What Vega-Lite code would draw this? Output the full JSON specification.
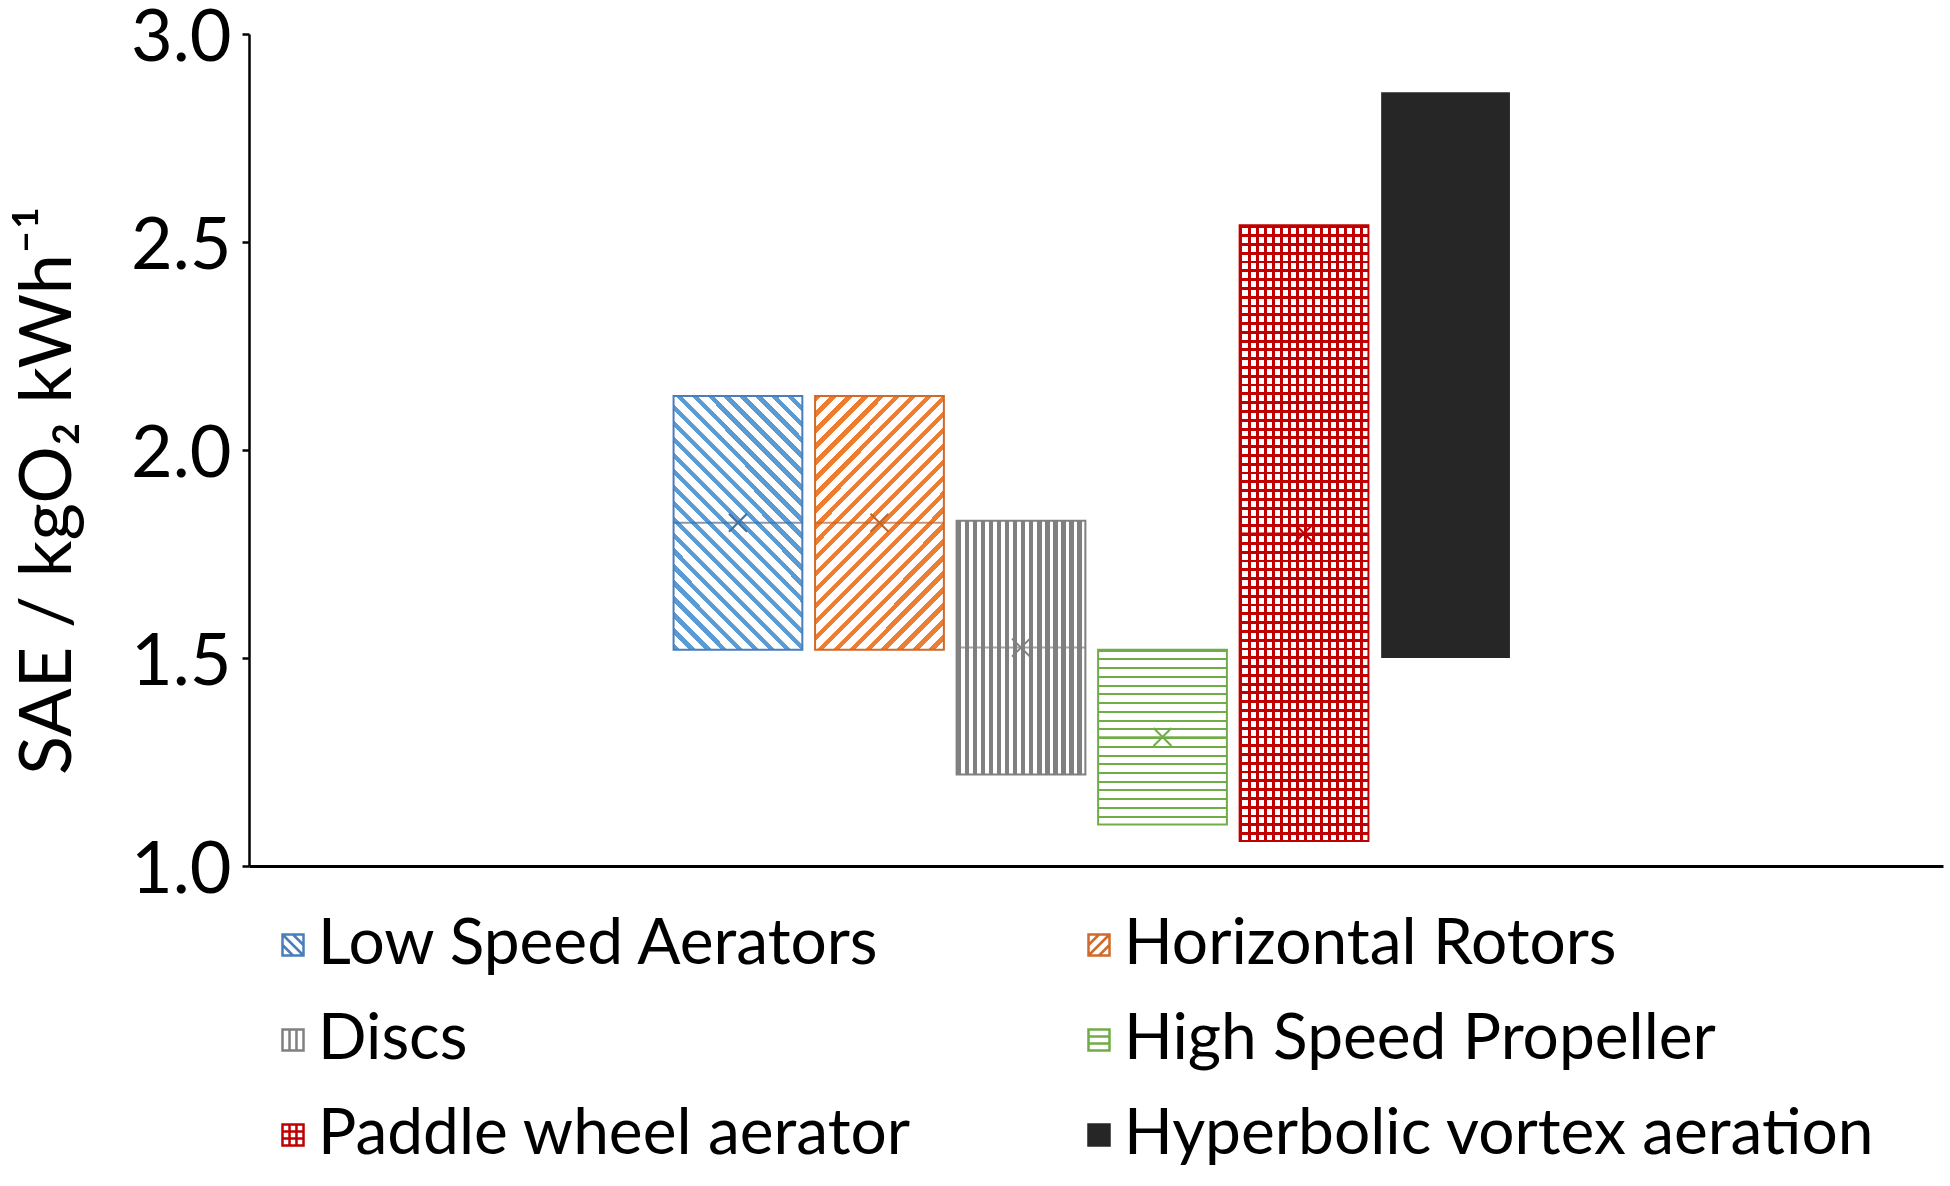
{
"$schema":"https://vega.github.io/schema/vega-lite/v6.json",
"width":1694,"height":832,
"autosize":{"type":"none"},
"padding":{"left":249,"top":34,"right":7,"bottom":320},
"background":"white",
"data":{"values":[
{"series":"Low Speed Aerators","lower":1.52,"upper":2.13,"median":1.825,"mean":1.825},
{"series":"Horizontal Rotors","lower":1.52,"upper":2.13,"median":1.825,"mean":1.825},
{"series":"Discs","lower":1.22,"upper":1.83,"median":1.525,"mean":1.525},
{"series":"High Speed Propeller","lower":1.10,"upper":1.52,"median":1.31,"mean":1.31},
{"series":"Paddle wheel aerator","lower":1.06,"upper":2.54,"median":1.80,"mean":1.80},
{"series":"Hyperbolic vortex aeration","lower":1.50,"upper":2.86,"median":null,"mean":null}
]},
"encoding":{"x":{"field":"series","type":"nominal","scale":{"type":"band","domain":["pad1","pad2","pad3","Low Speed Aerators","Horizontal Rotors","Discs","High Speed Propeller","Paddle wheel aerator","Hyperbolic vortex aeration","pad4","pad5","pad6"],"paddingInner":0.09,"paddingOuter":0.03,"align":0},"axis":{"title":null,"ticks":false,"labels":false,"domainWidth":3,"domainColor":"black"}}},
"layer":[
{"mark":{"type":"point","filled":true,"strokeWidth":2.5,"opacity":1},
"encoding":{"y":{"field":"mean","type":"quantitative","scale":{"domain":[1,3],"nice":false,"zero":false},"axis":{"title":"SAE / kgO₂ kWh⁻¹","values":[1,1.5,2,2.5,3],"format":".1f"}},
"stroke":{"field":"series","type":"nominal","scale":{"domain":["Low Speed Aerators","Discs","Paddle wheel aerator","Horizontal Rotors","High Speed Propeller","Hyperbolic vortex aeration"],"range":["#4a7ebb","#808080","#c00000","#d0692a","#70ad47","#262626"]},
"legend":{"title":null,"orient":"none","legendX":12,"legendY":879,"columns":2,"columnPadding":155,"rowPadding":31,"padding":0,"symbolSize":441,"symbolStrokeWidth":2.5,"labelFont":"Lato","labelFontSize":64,"labelColor":"black","labelOffset":-7,"labelLimit":1000}},
"fill":{"field":"series","type":"nominal","scale":{"domain":["Low Speed Aerators","Discs","Paddle wheel aerator","Horizontal Rotors","High Speed Propeller","Hyperbolic vortex aeration"],"range":["#ffffff","#ffffff","#ffffff","#ffffff","#ffffff","#262626"]},
"legend":{"title":null,"orient":"none","legendX":12,"legendY":879,"columns":2,"columnPadding":155,"rowPadding":31,"padding":0,"symbolSize":441,"symbolStrokeWidth":2.5,"labelFont":"Lato","labelFontSize":64,"labelColor":"black","labelOffset":-7,"labelLimit":1000}},
"shape":{"field":"series","type":"nominal","scale":{"domain":["Low Speed Aerators","Discs","Paddle wheel aerator","Horizontal Rotors","High Speed Propeller","Hyperbolic vortex aeration"],"range":["M-1,-1H1V1H-1Z M-1,-1L1,1 M-1,0L0,1 M0,-1L1,0","M-1,-1H1V1H-1Z M-0.33,-1V1 M0.33,-1V1","M-1,-1H1V1H-1Z M-0.33,-1V1 M0.33,-1V1 M-1,-0.33H1 M-1,0.33H1","M-1,-1H1V1H-1Z M-1,1L1,-1 M-1,0L0,-1 M0,1L1,0","M-1,-1H1V1H-1Z M-1,-0.33H1 M-1,0.33H1","square"]},
"legend":{"title":null,"orient":"none","legendX":12,"legendY":879,"columns":2,"columnPadding":155,"rowPadding":31,"padding":0,"symbolSize":441,"symbolStrokeWidth":2.5,"labelFont":"Lato","labelFontSize":64,"labelColor":"black","labelOffset":-7,"labelLimit":1000}}}},
{"transform":[{"filter":"datum.series === 'Low Speed Aerators'"}],
"mark":{"type":"bar","stroke":"#4a7ebb","strokeWidth":2,"fill":{"gradient":"linear","x1":0,"y1":1,"x2":0.6103,"y2":-0.1986,"stops":[
{"offset":0,"color":"#5b9bd5"},{"offset":0.0167,"color":"#5b9bd5"},{"offset":0.0167,"color":"#ffffff"},{"offset":0.0417,"color":"#ffffff"},
{"offset":0.0417,"color":"#5b9bd5"},{"offset":0.0583,"color":"#5b9bd5"},{"offset":0.0583,"color":"#ffffff"},{"offset":0.0833,"color":"#ffffff"},
{"offset":0.0833,"color":"#5b9bd5"},{"offset":0.1,"color":"#5b9bd5"},{"offset":0.1,"color":"#ffffff"},{"offset":0.125,"color":"#ffffff"},
{"offset":0.125,"color":"#5b9bd5"},{"offset":0.1417,"color":"#5b9bd5"},{"offset":0.1417,"color":"#ffffff"},{"offset":0.1667,"color":"#ffffff"},
{"offset":0.1667,"color":"#5b9bd5"},{"offset":0.1833,"color":"#5b9bd5"},{"offset":0.1833,"color":"#ffffff"},{"offset":0.2083,"color":"#ffffff"},
{"offset":0.2083,"color":"#5b9bd5"},{"offset":0.225,"color":"#5b9bd5"},{"offset":0.225,"color":"#ffffff"},{"offset":0.25,"color":"#ffffff"},
{"offset":0.25,"color":"#5b9bd5"},{"offset":0.2667,"color":"#5b9bd5"},{"offset":0.2667,"color":"#ffffff"},{"offset":0.2917,"color":"#ffffff"},
{"offset":0.2917,"color":"#5b9bd5"},{"offset":0.3083,"color":"#5b9bd5"},{"offset":0.3083,"color":"#ffffff"},{"offset":0.3333,"color":"#ffffff"},
{"offset":0.3333,"color":"#5b9bd5"},{"offset":0.35,"color":"#5b9bd5"},{"offset":0.35,"color":"#ffffff"},{"offset":0.375,"color":"#ffffff"},
{"offset":0.375,"color":"#5b9bd5"},{"offset":0.3917,"color":"#5b9bd5"},{"offset":0.3917,"color":"#ffffff"},{"offset":0.4167,"color":"#ffffff"},
{"offset":0.4167,"color":"#5b9bd5"},{"offset":0.4333,"color":"#5b9bd5"},{"offset":0.4333,"color":"#ffffff"},{"offset":0.4583,"color":"#ffffff"},
{"offset":0.4583,"color":"#5b9bd5"},{"offset":0.475,"color":"#5b9bd5"},{"offset":0.475,"color":"#ffffff"},{"offset":0.5,"color":"#ffffff"},
{"offset":0.5,"color":"#5b9bd5"},{"offset":0.5167,"color":"#5b9bd5"},{"offset":0.5167,"color":"#ffffff"},{"offset":0.5417,"color":"#ffffff"},
{"offset":0.5417,"color":"#5b9bd5"},{"offset":0.5583,"color":"#5b9bd5"},{"offset":0.5583,"color":"#ffffff"},{"offset":0.5833,"color":"#ffffff"},
{"offset":0.5833,"color":"#5b9bd5"},{"offset":0.6,"color":"#5b9bd5"},{"offset":0.6,"color":"#ffffff"},{"offset":0.625,"color":"#ffffff"},
{"offset":0.625,"color":"#5b9bd5"},{"offset":0.6417,"color":"#5b9bd5"},{"offset":0.6417,"color":"#ffffff"},{"offset":0.6667,"color":"#ffffff"},
{"offset":0.6667,"color":"#5b9bd5"},{"offset":0.6833,"color":"#5b9bd5"},{"offset":0.6833,"color":"#ffffff"},{"offset":0.7083,"color":"#ffffff"},
{"offset":0.7083,"color":"#5b9bd5"},{"offset":0.725,"color":"#5b9bd5"},{"offset":0.725,"color":"#ffffff"},{"offset":0.75,"color":"#ffffff"},
{"offset":0.75,"color":"#5b9bd5"},{"offset":0.7667,"color":"#5b9bd5"},{"offset":0.7667,"color":"#ffffff"},{"offset":0.7917,"color":"#ffffff"},
{"offset":0.7917,"color":"#5b9bd5"},{"offset":0.8083,"color":"#5b9bd5"},{"offset":0.8083,"color":"#ffffff"},{"offset":0.8333,"color":"#ffffff"},
{"offset":0.8333,"color":"#5b9bd5"},{"offset":0.85,"color":"#5b9bd5"},{"offset":0.85,"color":"#ffffff"},{"offset":0.875,"color":"#ffffff"},
{"offset":0.875,"color":"#5b9bd5"},{"offset":0.8917,"color":"#5b9bd5"},{"offset":0.8917,"color":"#ffffff"},{"offset":0.9167,"color":"#ffffff"},
{"offset":0.9167,"color":"#5b9bd5"},{"offset":0.9333,"color":"#5b9bd5"},{"offset":0.9333,"color":"#ffffff"},{"offset":0.9583,"color":"#ffffff"},
{"offset":0.9583,"color":"#5b9bd5"},{"offset":0.975,"color":"#5b9bd5"},{"offset":0.975,"color":"#ffffff"},{"offset":1,"color":"#ffffff"}
]}},
"encoding":{"y":{"field":"lower","type":"quantitative","scale":{"domain":[1,3],"nice":false,"zero":false},"axis":{"title":"SAE / kgO₂ kWh⁻¹","values":[1,1.5,2,2.5,3],"format":".1f"}},"y2":{"field":"upper"}}},
{"transform":[{"filter":"datum.series === 'Horizontal Rotors'"}],
"mark":{"type":"bar","stroke":"#d0692a","strokeWidth":2,"fill":{"gradient":"linear","x1":0,"y1":0,"x2":0.6103,"y2":1.1986,"stops":[
{"offset":0,"color":"#ed7d31"},{"offset":0.0167,"color":"#ed7d31"},{"offset":0.0167,"color":"#ffffff"},{"offset":0.0417,"color":"#ffffff"},
{"offset":0.0417,"color":"#ed7d31"},{"offset":0.0583,"color":"#ed7d31"},{"offset":0.0583,"color":"#ffffff"},{"offset":0.0833,"color":"#ffffff"},
{"offset":0.0833,"color":"#ed7d31"},{"offset":0.1,"color":"#ed7d31"},{"offset":0.1,"color":"#ffffff"},{"offset":0.125,"color":"#ffffff"},
{"offset":0.125,"color":"#ed7d31"},{"offset":0.1417,"color":"#ed7d31"},{"offset":0.1417,"color":"#ffffff"},{"offset":0.1667,"color":"#ffffff"},
{"offset":0.1667,"color":"#ed7d31"},{"offset":0.1833,"color":"#ed7d31"},{"offset":0.1833,"color":"#ffffff"},{"offset":0.2083,"color":"#ffffff"},
{"offset":0.2083,"color":"#ed7d31"},{"offset":0.225,"color":"#ed7d31"},{"offset":0.225,"color":"#ffffff"},{"offset":0.25,"color":"#ffffff"},
{"offset":0.25,"color":"#ed7d31"},{"offset":0.2667,"color":"#ed7d31"},{"offset":0.2667,"color":"#ffffff"},{"offset":0.2917,"color":"#ffffff"},
{"offset":0.2917,"color":"#ed7d31"},{"offset":0.3083,"color":"#ed7d31"},{"offset":0.3083,"color":"#ffffff"},{"offset":0.3333,"color":"#ffffff"},
{"offset":0.3333,"color":"#ed7d31"},{"offset":0.35,"color":"#ed7d31"},{"offset":0.35,"color":"#ffffff"},{"offset":0.375,"color":"#ffffff"},
{"offset":0.375,"color":"#ed7d31"},{"offset":0.3917,"color":"#ed7d31"},{"offset":0.3917,"color":"#ffffff"},{"offset":0.4167,"color":"#ffffff"},
{"offset":0.4167,"color":"#ed7d31"},{"offset":0.4333,"color":"#ed7d31"},{"offset":0.4333,"color":"#ffffff"},{"offset":0.4583,"color":"#ffffff"},
{"offset":0.4583,"color":"#ed7d31"},{"offset":0.475,"color":"#ed7d31"},{"offset":0.475,"color":"#ffffff"},{"offset":0.5,"color":"#ffffff"},
{"offset":0.5,"color":"#ed7d31"},{"offset":0.5167,"color":"#ed7d31"},{"offset":0.5167,"color":"#ffffff"},{"offset":0.5417,"color":"#ffffff"},
{"offset":0.5417,"color":"#ed7d31"},{"offset":0.5583,"color":"#ed7d31"},{"offset":0.5583,"color":"#ffffff"},{"offset":0.5833,"color":"#ffffff"},
{"offset":0.5833,"color":"#ed7d31"},{"offset":0.6,"color":"#ed7d31"},{"offset":0.6,"color":"#ffffff"},{"offset":0.625,"color":"#ffffff"},
{"offset":0.625,"color":"#ed7d31"},{"offset":0.6417,"color":"#ed7d31"},{"offset":0.6417,"color":"#ffffff"},{"offset":0.6667,"color":"#ffffff"},
{"offset":0.6667,"color":"#ed7d31"},{"offset":0.6833,"color":"#ed7d31"},{"offset":0.6833,"color":"#ffffff"},{"offset":0.7083,"color":"#ffffff"},
{"offset":0.7083,"color":"#ed7d31"},{"offset":0.725,"color":"#ed7d31"},{"offset":0.725,"color":"#ffffff"},{"offset":0.75,"color":"#ffffff"},
{"offset":0.75,"color":"#ed7d31"},{"offset":0.7667,"color":"#ed7d31"},{"offset":0.7667,"color":"#ffffff"},{"offset":0.7917,"color":"#ffffff"},
{"offset":0.7917,"color":"#ed7d31"},{"offset":0.8083,"color":"#ed7d31"},{"offset":0.8083,"color":"#ffffff"},{"offset":0.8333,"color":"#ffffff"},
{"offset":0.8333,"color":"#ed7d31"},{"offset":0.85,"color":"#ed7d31"},{"offset":0.85,"color":"#ffffff"},{"offset":0.875,"color":"#ffffff"},
{"offset":0.875,"color":"#ed7d31"},{"offset":0.8917,"color":"#ed7d31"},{"offset":0.8917,"color":"#ffffff"},{"offset":0.9167,"color":"#ffffff"},
{"offset":0.9167,"color":"#ed7d31"},{"offset":0.9333,"color":"#ed7d31"},{"offset":0.9333,"color":"#ffffff"},{"offset":0.9583,"color":"#ffffff"},
{"offset":0.9583,"color":"#ed7d31"},{"offset":0.975,"color":"#ed7d31"},{"offset":0.975,"color":"#ffffff"},{"offset":1,"color":"#ffffff"}
]}},
"encoding":{"y":{"field":"lower","type":"quantitative","scale":{"domain":[1,3],"nice":false,"zero":false},"axis":{"title":"SAE / kgO₂ kWh⁻¹","values":[1,1.5,2,2.5,3],"format":".1f"}},"y2":{"field":"upper"}}},
{"transform":[{"filter":"datum.series === 'Discs'"}],
"mark":{"type":"bar","stroke":"#808080","strokeWidth":2,"fill":{"gradient":"linear","x1":0,"y1":0.5,"x2":1,"y2":0.5,"stops":[
{"offset":0,"color":"#808080"},{"offset":0.0344,"color":"#808080"},{"offset":0.0344,"color":"#ffffff"},{"offset":0.0625,"color":"#ffffff"},
{"offset":0.0625,"color":"#808080"},{"offset":0.0969,"color":"#808080"},{"offset":0.0969,"color":"#ffffff"},{"offset":0.125,"color":"#ffffff"},
{"offset":0.125,"color":"#808080"},{"offset":0.1594,"color":"#808080"},{"offset":0.1594,"color":"#ffffff"},{"offset":0.1875,"color":"#ffffff"},
{"offset":0.1875,"color":"#808080"},{"offset":0.2219,"color":"#808080"},{"offset":0.2219,"color":"#ffffff"},{"offset":0.25,"color":"#ffffff"},
{"offset":0.25,"color":"#808080"},{"offset":0.2844,"color":"#808080"},{"offset":0.2844,"color":"#ffffff"},{"offset":0.3125,"color":"#ffffff"},
{"offset":0.3125,"color":"#808080"},{"offset":0.3469,"color":"#808080"},{"offset":0.3469,"color":"#ffffff"},{"offset":0.375,"color":"#ffffff"},
{"offset":0.375,"color":"#808080"},{"offset":0.4094,"color":"#808080"},{"offset":0.4094,"color":"#ffffff"},{"offset":0.4375,"color":"#ffffff"},
{"offset":0.4375,"color":"#808080"},{"offset":0.4719,"color":"#808080"},{"offset":0.4719,"color":"#ffffff"},{"offset":0.5,"color":"#ffffff"},
{"offset":0.5,"color":"#808080"},{"offset":0.5344,"color":"#808080"},{"offset":0.5344,"color":"#ffffff"},{"offset":0.5625,"color":"#ffffff"},
{"offset":0.5625,"color":"#808080"},{"offset":0.5969,"color":"#808080"},{"offset":0.5969,"color":"#ffffff"},{"offset":0.625,"color":"#ffffff"},
{"offset":0.625,"color":"#808080"},{"offset":0.6594,"color":"#808080"},{"offset":0.6594,"color":"#ffffff"},{"offset":0.6875,"color":"#ffffff"},
{"offset":0.6875,"color":"#808080"},{"offset":0.7219,"color":"#808080"},{"offset":0.7219,"color":"#ffffff"},{"offset":0.75,"color":"#ffffff"},
{"offset":0.75,"color":"#808080"},{"offset":0.7844,"color":"#808080"},{"offset":0.7844,"color":"#ffffff"},{"offset":0.8125,"color":"#ffffff"},
{"offset":0.8125,"color":"#808080"},{"offset":0.8469,"color":"#808080"},{"offset":0.8469,"color":"#ffffff"},{"offset":0.875,"color":"#ffffff"},
{"offset":0.875,"color":"#808080"},{"offset":0.9094,"color":"#808080"},{"offset":0.9094,"color":"#ffffff"},{"offset":0.9375,"color":"#ffffff"},
{"offset":0.9375,"color":"#808080"},{"offset":0.9719,"color":"#808080"},{"offset":0.9719,"color":"#ffffff"},{"offset":1,"color":"#ffffff"}
]}},
"encoding":{"y":{"field":"lower","type":"quantitative","scale":{"domain":[1,3],"nice":false,"zero":false},"axis":{"title":"SAE / kgO₂ kWh⁻¹","values":[1,1.5,2,2.5,3],"format":".1f"}},"y2":{"field":"upper"}}},
{"transform":[{"filter":"datum.series === 'High Speed Propeller'"}],
"mark":{"type":"bar","stroke":"#70ad47","strokeWidth":2,"fill":{"gradient":"linear","x1":0.5,"y1":0,"x2":0.5,"y2":1,"stops":[
{"offset":0,"color":"#70ad47"},{"offset":0.0115,"color":"#70ad47"},{"offset":0.0115,"color":"#ffffff"},{"offset":0.05,"color":"#ffffff"},
{"offset":0.05,"color":"#70ad47"},{"offset":0.0615,"color":"#70ad47"},{"offset":0.0615,"color":"#ffffff"},{"offset":0.1,"color":"#ffffff"},
{"offset":0.1,"color":"#70ad47"},{"offset":0.1115,"color":"#70ad47"},{"offset":0.1115,"color":"#ffffff"},{"offset":0.15,"color":"#ffffff"},
{"offset":0.15,"color":"#70ad47"},{"offset":0.1615,"color":"#70ad47"},{"offset":0.1615,"color":"#ffffff"},{"offset":0.2,"color":"#ffffff"},
{"offset":0.2,"color":"#70ad47"},{"offset":0.2115,"color":"#70ad47"},{"offset":0.2115,"color":"#ffffff"},{"offset":0.25,"color":"#ffffff"},
{"offset":0.25,"color":"#70ad47"},{"offset":0.2615,"color":"#70ad47"},{"offset":0.2615,"color":"#ffffff"},{"offset":0.3,"color":"#ffffff"},
{"offset":0.3,"color":"#70ad47"},{"offset":0.3115,"color":"#70ad47"},{"offset":0.3115,"color":"#ffffff"},{"offset":0.35,"color":"#ffffff"},
{"offset":0.35,"color":"#70ad47"},{"offset":0.3615,"color":"#70ad47"},{"offset":0.3615,"color":"#ffffff"},{"offset":0.4,"color":"#ffffff"},
{"offset":0.4,"color":"#70ad47"},{"offset":0.4115,"color":"#70ad47"},{"offset":0.4115,"color":"#ffffff"},{"offset":0.45,"color":"#ffffff"},
{"offset":0.45,"color":"#70ad47"},{"offset":0.4615,"color":"#70ad47"},{"offset":0.4615,"color":"#ffffff"},{"offset":0.5,"color":"#ffffff"},
{"offset":0.5,"color":"#70ad47"},{"offset":0.5115,"color":"#70ad47"},{"offset":0.5115,"color":"#ffffff"},{"offset":0.55,"color":"#ffffff"},
{"offset":0.55,"color":"#70ad47"},{"offset":0.5615,"color":"#70ad47"},{"offset":0.5615,"color":"#ffffff"},{"offset":0.6,"color":"#ffffff"},
{"offset":0.6,"color":"#70ad47"},{"offset":0.6115,"color":"#70ad47"},{"offset":0.6115,"color":"#ffffff"},{"offset":0.65,"color":"#ffffff"},
{"offset":0.65,"color":"#70ad47"},{"offset":0.6615,"color":"#70ad47"},{"offset":0.6615,"color":"#ffffff"},{"offset":0.7,"color":"#ffffff"},
{"offset":0.7,"color":"#70ad47"},{"offset":0.7115,"color":"#70ad47"},{"offset":0.7115,"color":"#ffffff"},{"offset":0.75,"color":"#ffffff"},
{"offset":0.75,"color":"#70ad47"},{"offset":0.7615,"color":"#70ad47"},{"offset":0.7615,"color":"#ffffff"},{"offset":0.8,"color":"#ffffff"},
{"offset":0.8,"color":"#70ad47"},{"offset":0.8115,"color":"#70ad47"},{"offset":0.8115,"color":"#ffffff"},{"offset":0.85,"color":"#ffffff"},
{"offset":0.85,"color":"#70ad47"},{"offset":0.8615,"color":"#70ad47"},{"offset":0.8615,"color":"#ffffff"},{"offset":0.9,"color":"#ffffff"},
{"offset":0.9,"color":"#70ad47"},{"offset":0.9115,"color":"#70ad47"},{"offset":0.9115,"color":"#ffffff"},{"offset":0.95,"color":"#ffffff"},
{"offset":0.95,"color":"#70ad47"},{"offset":0.9615,"color":"#70ad47"},{"offset":0.9615,"color":"#ffffff"},{"offset":1,"color":"#ffffff"}
]}},
"encoding":{"y":{"field":"lower","type":"quantitative","scale":{"domain":[1,3],"nice":false,"zero":false},"axis":{"title":"SAE / kgO₂ kWh⁻¹","values":[1,1.5,2,2.5,3],"format":".1f"}},"y2":{"field":"upper"}}},
{"transform":[{"filter":"datum.series === 'Paddle wheel aerator'"}],
"mark":{"type":"bar","fill":{"gradient":"linear","x1":0,"y1":0.5,"x2":1,"y2":0.5,"stops":[
{"offset":0,"color":"#c00000"},{"offset":0.0219,"color":"#c00000"},{"offset":0.0219,"color":"#ffffff"},{"offset":0.0625,"color":"#ffffff"},
{"offset":0.0625,"color":"#c00000"},{"offset":0.0844,"color":"#c00000"},{"offset":0.0844,"color":"#ffffff"},{"offset":0.125,"color":"#ffffff"},
{"offset":0.125,"color":"#c00000"},{"offset":0.1469,"color":"#c00000"},{"offset":0.1469,"color":"#ffffff"},{"offset":0.1875,"color":"#ffffff"},
{"offset":0.1875,"color":"#c00000"},{"offset":0.2094,"color":"#c00000"},{"offset":0.2094,"color":"#ffffff"},{"offset":0.25,"color":"#ffffff"},
{"offset":0.25,"color":"#c00000"},{"offset":0.2719,"color":"#c00000"},{"offset":0.2719,"color":"#ffffff"},{"offset":0.3125,"color":"#ffffff"},
{"offset":0.3125,"color":"#c00000"},{"offset":0.3344,"color":"#c00000"},{"offset":0.3344,"color":"#ffffff"},{"offset":0.375,"color":"#ffffff"},
{"offset":0.375,"color":"#c00000"},{"offset":0.3969,"color":"#c00000"},{"offset":0.3969,"color":"#ffffff"},{"offset":0.4375,"color":"#ffffff"},
{"offset":0.4375,"color":"#c00000"},{"offset":0.4594,"color":"#c00000"},{"offset":0.4594,"color":"#ffffff"},{"offset":0.5,"color":"#ffffff"},
{"offset":0.5,"color":"#c00000"},{"offset":0.5219,"color":"#c00000"},{"offset":0.5219,"color":"#ffffff"},{"offset":0.5625,"color":"#ffffff"},
{"offset":0.5625,"color":"#c00000"},{"offset":0.5844,"color":"#c00000"},{"offset":0.5844,"color":"#ffffff"},{"offset":0.625,"color":"#ffffff"},
{"offset":0.625,"color":"#c00000"},{"offset":0.6469,"color":"#c00000"},{"offset":0.6469,"color":"#ffffff"},{"offset":0.6875,"color":"#ffffff"},
{"offset":0.6875,"color":"#c00000"},{"offset":0.7094,"color":"#c00000"},{"offset":0.7094,"color":"#ffffff"},{"offset":0.75,"color":"#ffffff"},
{"offset":0.75,"color":"#c00000"},{"offset":0.7719,"color":"#c00000"},{"offset":0.7719,"color":"#ffffff"},{"offset":0.8125,"color":"#ffffff"},
{"offset":0.8125,"color":"#c00000"},{"offset":0.8344,"color":"#c00000"},{"offset":0.8344,"color":"#ffffff"},{"offset":0.875,"color":"#ffffff"},
{"offset":0.875,"color":"#c00000"},{"offset":0.8969,"color":"#c00000"},{"offset":0.8969,"color":"#ffffff"},{"offset":0.9375,"color":"#ffffff"},
{"offset":0.9375,"color":"#c00000"},{"offset":0.9594,"color":"#c00000"},{"offset":0.9594,"color":"#ffffff"},{"offset":1,"color":"#ffffff"}
]}},
"encoding":{"y":{"field":"lower","type":"quantitative","scale":{"domain":[1,3],"nice":false,"zero":false},"axis":{"title":"SAE / kgO₂ kWh⁻¹","values":[1,1.5,2,2.5,3],"format":".1f"}},"y2":{"field":"upper"}}},
{"transform":[{"filter":"datum.series === 'Paddle wheel aerator'"}],
"mark":{"type":"bar","stroke":"#c00000","strokeWidth":2,"fill":{"gradient":"linear","x1":0.5,"y1":0,"x2":0.5,"y2":1,"stops":[
{"offset":0,"color":"#c00000"},{"offset":0.0046,"color":"#c00000"},{"offset":0.0046,"color":"transparent"},{"offset":0.0143,"color":"transparent"},
{"offset":0.0143,"color":"#c00000"},{"offset":0.0189,"color":"#c00000"},{"offset":0.0189,"color":"transparent"},{"offset":0.0286,"color":"transparent"},
{"offset":0.0286,"color":"#c00000"},{"offset":0.0332,"color":"#c00000"},{"offset":0.0332,"color":"transparent"},{"offset":0.0429,"color":"transparent"},
{"offset":0.0429,"color":"#c00000"},{"offset":0.0475,"color":"#c00000"},{"offset":0.0475,"color":"transparent"},{"offset":0.0571,"color":"transparent"},
{"offset":0.0571,"color":"#c00000"},{"offset":0.0617,"color":"#c00000"},{"offset":0.0617,"color":"transparent"},{"offset":0.0714,"color":"transparent"},
{"offset":0.0714,"color":"#c00000"},{"offset":0.076,"color":"#c00000"},{"offset":0.076,"color":"transparent"},{"offset":0.0857,"color":"transparent"},
{"offset":0.0857,"color":"#c00000"},{"offset":0.0903,"color":"#c00000"},{"offset":0.0903,"color":"transparent"},{"offset":0.1,"color":"transparent"},
{"offset":0.1,"color":"#c00000"},{"offset":0.1046,"color":"#c00000"},{"offset":0.1046,"color":"transparent"},{"offset":0.1143,"color":"transparent"},
{"offset":0.1143,"color":"#c00000"},{"offset":0.1189,"color":"#c00000"},{"offset":0.1189,"color":"transparent"},{"offset":0.1286,"color":"transparent"},
{"offset":0.1286,"color":"#c00000"},{"offset":0.1332,"color":"#c00000"},{"offset":0.1332,"color":"transparent"},{"offset":0.1429,"color":"transparent"},
{"offset":0.1429,"color":"#c00000"},{"offset":0.1475,"color":"#c00000"},{"offset":0.1475,"color":"transparent"},{"offset":0.1571,"color":"transparent"},
{"offset":0.1571,"color":"#c00000"},{"offset":0.1617,"color":"#c00000"},{"offset":0.1617,"color":"transparent"},{"offset":0.1714,"color":"transparent"},
{"offset":0.1714,"color":"#c00000"},{"offset":0.176,"color":"#c00000"},{"offset":0.176,"color":"transparent"},{"offset":0.1857,"color":"transparent"},
{"offset":0.1857,"color":"#c00000"},{"offset":0.1903,"color":"#c00000"},{"offset":0.1903,"color":"transparent"},{"offset":0.2,"color":"transparent"},
{"offset":0.2,"color":"#c00000"},{"offset":0.2046,"color":"#c00000"},{"offset":0.2046,"color":"transparent"},{"offset":0.2143,"color":"transparent"},
{"offset":0.2143,"color":"#c00000"},{"offset":0.2189,"color":"#c00000"},{"offset":0.2189,"color":"transparent"},{"offset":0.2286,"color":"transparent"},
{"offset":0.2286,"color":"#c00000"},{"offset":0.2332,"color":"#c00000"},{"offset":0.2332,"color":"transparent"},{"offset":0.2429,"color":"transparent"},
{"offset":0.2429,"color":"#c00000"},{"offset":0.2475,"color":"#c00000"},{"offset":0.2475,"color":"transparent"},{"offset":0.2571,"color":"transparent"},
{"offset":0.2571,"color":"#c00000"},{"offset":0.2617,"color":"#c00000"},{"offset":0.2617,"color":"transparent"},{"offset":0.2714,"color":"transparent"},
{"offset":0.2714,"color":"#c00000"},{"offset":0.276,"color":"#c00000"},{"offset":0.276,"color":"transparent"},{"offset":0.2857,"color":"transparent"},
{"offset":0.2857,"color":"#c00000"},{"offset":0.2903,"color":"#c00000"},{"offset":0.2903,"color":"transparent"},{"offset":0.3,"color":"transparent"},
{"offset":0.3,"color":"#c00000"},{"offset":0.3046,"color":"#c00000"},{"offset":0.3046,"color":"transparent"},{"offset":0.3143,"color":"transparent"},
{"offset":0.3143,"color":"#c00000"},{"offset":0.3189,"color":"#c00000"},{"offset":0.3189,"color":"transparent"},{"offset":0.3286,"color":"transparent"},
{"offset":0.3286,"color":"#c00000"},{"offset":0.3332,"color":"#c00000"},{"offset":0.3332,"color":"transparent"},{"offset":0.3429,"color":"transparent"},
{"offset":0.3429,"color":"#c00000"},{"offset":0.3475,"color":"#c00000"},{"offset":0.3475,"color":"transparent"},{"offset":0.3571,"color":"transparent"},
{"offset":0.3571,"color":"#c00000"},{"offset":0.3617,"color":"#c00000"},{"offset":0.3617,"color":"transparent"},{"offset":0.3714,"color":"transparent"},
{"offset":0.3714,"color":"#c00000"},{"offset":0.376,"color":"#c00000"},{"offset":0.376,"color":"transparent"},{"offset":0.3857,"color":"transparent"},
{"offset":0.3857,"color":"#c00000"},{"offset":0.3903,"color":"#c00000"},{"offset":0.3903,"color":"transparent"},{"offset":0.4,"color":"transparent"},
{"offset":0.4,"color":"#c00000"},{"offset":0.4046,"color":"#c00000"},{"offset":0.4046,"color":"transparent"},{"offset":0.4143,"color":"transparent"},
{"offset":0.4143,"color":"#c00000"},{"offset":0.4189,"color":"#c00000"},{"offset":0.4189,"color":"transparent"},{"offset":0.4286,"color":"transparent"},
{"offset":0.4286,"color":"#c00000"},{"offset":0.4332,"color":"#c00000"},{"offset":0.4332,"color":"transparent"},{"offset":0.4429,"color":"transparent"},
{"offset":0.4429,"color":"#c00000"},{"offset":0.4475,"color":"#c00000"},{"offset":0.4475,"color":"transparent"},{"offset":0.4571,"color":"transparent"},
{"offset":0.4571,"color":"#c00000"},{"offset":0.4617,"color":"#c00000"},{"offset":0.4617,"color":"transparent"},{"offset":0.4714,"color":"transparent"},
{"offset":0.4714,"color":"#c00000"},{"offset":0.476,"color":"#c00000"},{"offset":0.476,"color":"transparent"},{"offset":0.4857,"color":"transparent"},
{"offset":0.4857,"color":"#c00000"},{"offset":0.4903,"color":"#c00000"},{"offset":0.4903,"color":"transparent"},{"offset":0.5,"color":"transparent"},
{"offset":0.5,"color":"#c00000"},{"offset":0.5046,"color":"#c00000"},{"offset":0.5046,"color":"transparent"},{"offset":0.5143,"color":"transparent"},
{"offset":0.5143,"color":"#c00000"},{"offset":0.5189,"color":"#c00000"},{"offset":0.5189,"color":"transparent"},{"offset":0.5286,"color":"transparent"},
{"offset":0.5286,"color":"#c00000"},{"offset":0.5332,"color":"#c00000"},{"offset":0.5332,"color":"transparent"},{"offset":0.5429,"color":"transparent"},
{"offset":0.5429,"color":"#c00000"},{"offset":0.5475,"color":"#c00000"},{"offset":0.5475,"color":"transparent"},{"offset":0.5571,"color":"transparent"},
{"offset":0.5571,"color":"#c00000"},{"offset":0.5617,"color":"#c00000"},{"offset":0.5617,"color":"transparent"},{"offset":0.5714,"color":"transparent"},
{"offset":0.5714,"color":"#c00000"},{"offset":0.576,"color":"#c00000"},{"offset":0.576,"color":"transparent"},{"offset":0.5857,"color":"transparent"},
{"offset":0.5857,"color":"#c00000"},{"offset":0.5903,"color":"#c00000"},{"offset":0.5903,"color":"transparent"},{"offset":0.6,"color":"transparent"},
{"offset":0.6,"color":"#c00000"},{"offset":0.6046,"color":"#c00000"},{"offset":0.6046,"color":"transparent"},{"offset":0.6143,"color":"transparent"},
{"offset":0.6143,"color":"#c00000"},{"offset":0.6189,"color":"#c00000"},{"offset":0.6189,"color":"transparent"},{"offset":0.6286,"color":"transparent"},
{"offset":0.6286,"color":"#c00000"},{"offset":0.6332,"color":"#c00000"},{"offset":0.6332,"color":"transparent"},{"offset":0.6429,"color":"transparent"},
{"offset":0.6429,"color":"#c00000"},{"offset":0.6475,"color":"#c00000"},{"offset":0.6475,"color":"transparent"},{"offset":0.6571,"color":"transparent"},
{"offset":0.6571,"color":"#c00000"},{"offset":0.6617,"color":"#c00000"},{"offset":0.6617,"color":"transparent"},{"offset":0.6714,"color":"transparent"},
{"offset":0.6714,"color":"#c00000"},{"offset":0.676,"color":"#c00000"},{"offset":0.676,"color":"transparent"},{"offset":0.6857,"color":"transparent"},
{"offset":0.6857,"color":"#c00000"},{"offset":0.6903,"color":"#c00000"},{"offset":0.6903,"color":"transparent"},{"offset":0.7,"color":"transparent"},
{"offset":0.7,"color":"#c00000"},{"offset":0.7046,"color":"#c00000"},{"offset":0.7046,"color":"transparent"},{"offset":0.7143,"color":"transparent"},
{"offset":0.7143,"color":"#c00000"},{"offset":0.7189,"color":"#c00000"},{"offset":0.7189,"color":"transparent"},{"offset":0.7286,"color":"transparent"},
{"offset":0.7286,"color":"#c00000"},{"offset":0.7332,"color":"#c00000"},{"offset":0.7332,"color":"transparent"},{"offset":0.7429,"color":"transparent"},
{"offset":0.7429,"color":"#c00000"},{"offset":0.7475,"color":"#c00000"},{"offset":0.7475,"color":"transparent"},{"offset":0.7571,"color":"transparent"},
{"offset":0.7571,"color":"#c00000"},{"offset":0.7617,"color":"#c00000"},{"offset":0.7617,"color":"transparent"},{"offset":0.7714,"color":"transparent"},
{"offset":0.7714,"color":"#c00000"},{"offset":0.776,"color":"#c00000"},{"offset":0.776,"color":"transparent"},{"offset":0.7857,"color":"transparent"},
{"offset":0.7857,"color":"#c00000"},{"offset":0.7903,"color":"#c00000"},{"offset":0.7903,"color":"transparent"},{"offset":0.8,"color":"transparent"},
{"offset":0.8,"color":"#c00000"},{"offset":0.8046,"color":"#c00000"},{"offset":0.8046,"color":"transparent"},{"offset":0.8143,"color":"transparent"},
{"offset":0.8143,"color":"#c00000"},{"offset":0.8189,"color":"#c00000"},{"offset":0.8189,"color":"transparent"},{"offset":0.8286,"color":"transparent"},
{"offset":0.8286,"color":"#c00000"},{"offset":0.8332,"color":"#c00000"},{"offset":0.8332,"color":"transparent"},{"offset":0.8429,"color":"transparent"},
{"offset":0.8429,"color":"#c00000"},{"offset":0.8475,"color":"#c00000"},{"offset":0.8475,"color":"transparent"},{"offset":0.8571,"color":"transparent"},
{"offset":0.8571,"color":"#c00000"},{"offset":0.8617,"color":"#c00000"},{"offset":0.8617,"color":"transparent"},{"offset":0.8714,"color":"transparent"},
{"offset":0.8714,"color":"#c00000"},{"offset":0.876,"color":"#c00000"},{"offset":0.876,"color":"transparent"},{"offset":0.8857,"color":"transparent"},
{"offset":0.8857,"color":"#c00000"},{"offset":0.8903,"color":"#c00000"},{"offset":0.8903,"color":"transparent"},{"offset":0.9,"color":"transparent"},
{"offset":0.9,"color":"#c00000"},{"offset":0.9046,"color":"#c00000"},{"offset":0.9046,"color":"transparent"},{"offset":0.9143,"color":"transparent"},
{"offset":0.9143,"color":"#c00000"},{"offset":0.9189,"color":"#c00000"},{"offset":0.9189,"color":"transparent"},{"offset":0.9286,"color":"transparent"},
{"offset":0.9286,"color":"#c00000"},{"offset":0.9332,"color":"#c00000"},{"offset":0.9332,"color":"transparent"},{"offset":0.9429,"color":"transparent"},
{"offset":0.9429,"color":"#c00000"},{"offset":0.9475,"color":"#c00000"},{"offset":0.9475,"color":"transparent"},{"offset":0.9571,"color":"transparent"},
{"offset":0.9571,"color":"#c00000"},{"offset":0.9617,"color":"#c00000"},{"offset":0.9617,"color":"transparent"},{"offset":0.9714,"color":"transparent"},
{"offset":0.9714,"color":"#c00000"},{"offset":0.976,"color":"#c00000"},{"offset":0.976,"color":"transparent"},{"offset":0.9857,"color":"transparent"},
{"offset":0.9857,"color":"#c00000"},{"offset":0.9903,"color":"#c00000"},{"offset":0.9903,"color":"transparent"},{"offset":1,"color":"transparent"}
]}},
"encoding":{"y":{"field":"lower","type":"quantitative","scale":{"domain":[1,3],"nice":false,"zero":false},"axis":{"title":"SAE / kgO₂ kWh⁻¹","values":[1,1.5,2,2.5,3],"format":".1f"}},"y2":{"field":"upper"}}},
{"transform":[{"filter":"datum.series === 'Hyperbolic vortex aeration'"}],
"mark":{"type":"bar","fill":"#262626"},
"encoding":{"y":{"field":"lower","type":"quantitative","scale":{"domain":[1,3],"nice":false,"zero":false},"axis":{"title":"SAE / kgO₂ kWh⁻¹","values":[1,1.5,2,2.5,3],"format":".1f"}},"y2":{"field":"upper"}}},
{"mark":{"type":"tick","size":129,"thickness":2},
"encoding":{"y":{"field":"median","type":"quantitative","scale":{"domain":[1,3],"nice":false,"zero":false},"axis":{"title":"SAE / kgO₂ kWh⁻¹","values":[1,1.5,2,2.5,3],"format":".1f"}},
"color":{"field":"series","type":"nominal","scale":{"domain":["Low Speed Aerators","Horizontal Rotors","Discs","High Speed Propeller","Paddle wheel aerator","Hyperbolic vortex aeration"],"range":["#41719c","#c0652b","#808080","#70ad47","#c00000","#262626"]},"legend":null}}},
{"mark":{"type":"point","shape":"M-1,-1L1,1M-1,1L1,-1","filled":false,"size":324,"strokeWidth":2,"opacity":1},
"encoding":{"y":{"field":"mean","type":"quantitative","scale":{"domain":[1,3],"nice":false,"zero":false},"axis":{"title":"SAE / kgO₂ kWh⁻¹","values":[1,1.5,2,2.5,3],"format":".1f"}},
"color":{"field":"series","type":"nominal","scale":{"domain":["Low Speed Aerators","Horizontal Rotors","Discs","High Speed Propeller","Paddle wheel aerator","Hyperbolic vortex aeration"],"range":["#41719c","#c0652b","#808080","#70ad47","#c00000","#262626"]},"legend":null}}}
],
"config":{
"view":{"stroke":null},
"axis":{"grid":false,"labelFont":"Lato","titleFont":"Lato","labelColor":"black","titleColor":"black","domainColor":"black","tickColor":"black"},
"axisY":{"labelFontSize":72,"titleFontSize":72,"titleFontWeight":"normal","domainWidth":2.5,"tickWidth":2.5,"tickSize":7,"labelPadding":11,"labelOffset":4,"titleX":-179,"titleY":456,"titleAngle":-90,"titleAlign":"center","titleBaseline":"alphabetic"}
}
}
